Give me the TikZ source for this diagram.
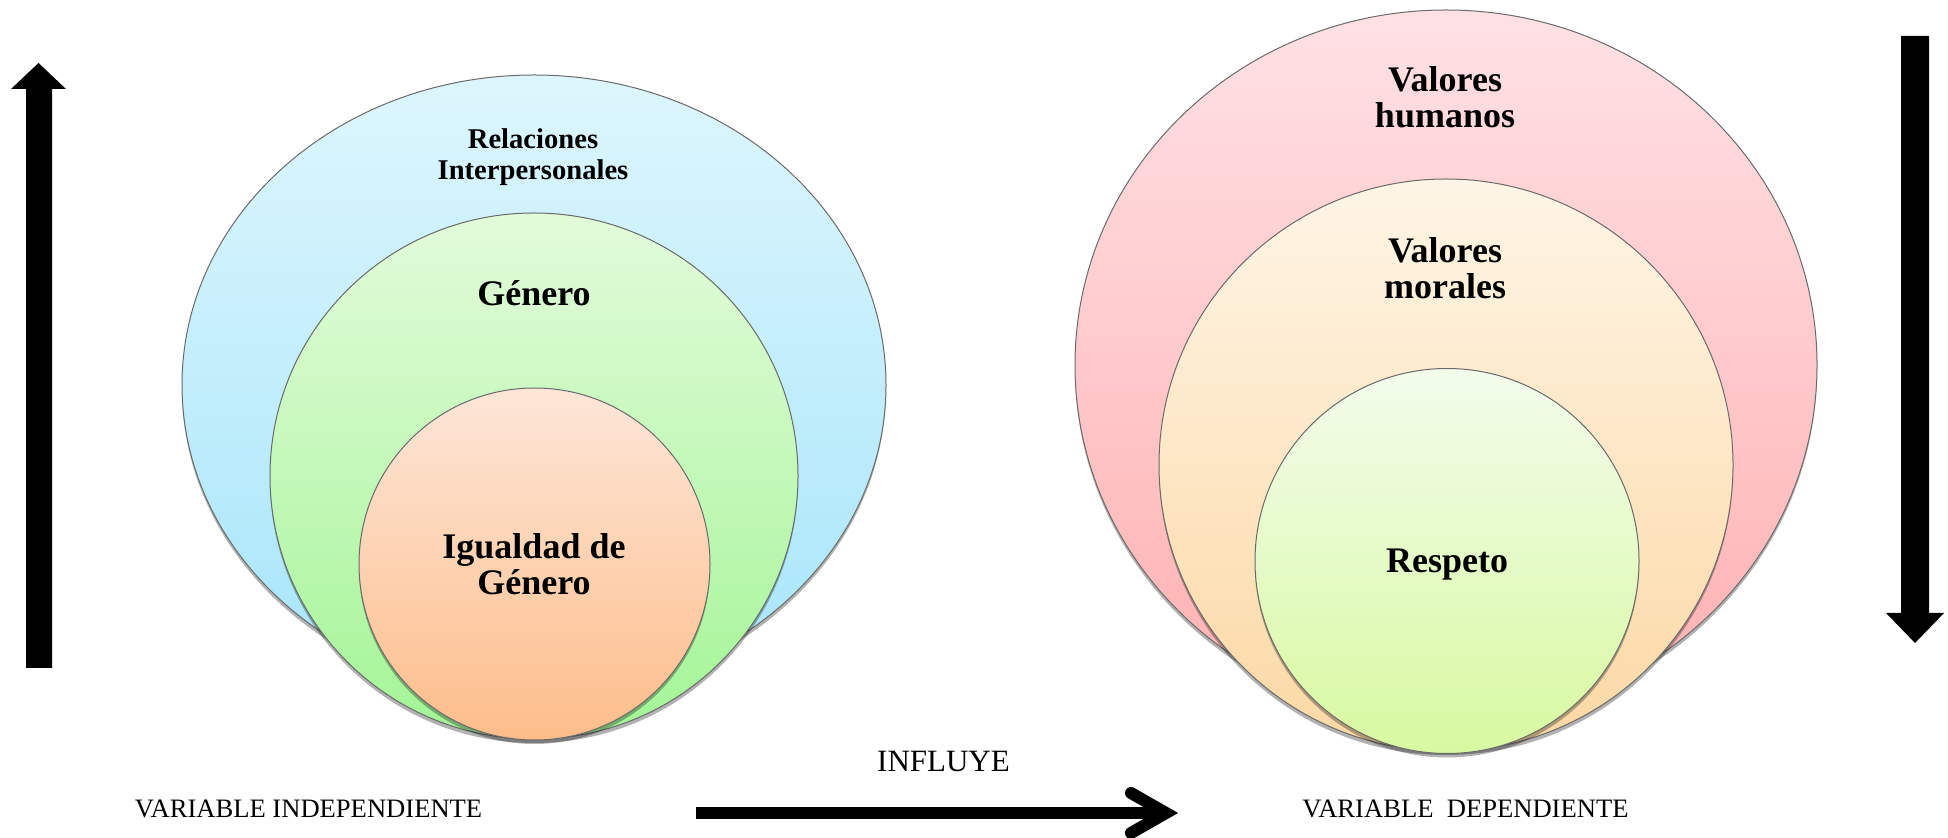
\documentclass[tikz,border=0pt]{standalone}
\usepackage{fontspec}
\setmainfont{Liberation Serif}
\usetikzlibrary{shapes.geometric,shadows}
\definecolor{edgegray}{HTML}{6A6A6A}
\definecolor{blueT}{HTML}{DDF6FD}
\definecolor{blueB}{HTML}{A6E5FA}
\definecolor{greenT}{HTML}{E2FBDA}
\definecolor{greenB}{HTML}{A3F596}
\definecolor{orangeT}{HTML}{FDE6D8}
\definecolor{orangeB}{HTML}{FDBD8A}
\definecolor{pinkT}{HTML}{FFE1E5}
\definecolor{pinkB}{HTML}{FFB0B0}
\definecolor{peachT}{HTML}{FEF5E6}
\definecolor{peachB}{HTML}{FCD8A4}
\definecolor{lgreenT}{HTML}{F2FCEC}
\definecolor{lgreenB}{HTML}{D8F9A0}
\tikzset{
  ell/.style={ellipse, draw=edgegray, line width=0.5pt, inner sep=0pt,
    drop shadow={shadow xshift=0pt, shadow yshift=-2pt, opacity=0.3, fill=black}},
  lbl/.style={align=center, inner sep=0pt, font=\bfseries\fontsize{18}{18}\selectfont},
  caplbl/.style={inner sep=0pt, font=\fontsize{13.3}{14}\selectfont},
  bigarrow/.style={fill=black},
}
\begin{document}
\begin{tikzpicture}[x=0.5pt,y=-0.5pt]
\useasboundingbox (0,0) rectangle (1948,838);

% left side nested ellipses
\node[ell, minimum width=352pt, minimum height=310pt, top color=blueT, bottom color=blueB] (blue) at (534,385) {};
\node[ell, minimum width=264pt, minimum height=263pt, top color=greenT, bottom color=greenB] (green) at (534,476) {};
\node[ell, minimum width=175.5pt, minimum height=176pt, top color=orangeT, bottom color=orangeB] (orange) at (534.5,564) {};

% right side nested ellipses
\node[ell, minimum width=371pt, minimum height=355pt, top color=pinkT, bottom color=pinkB] (pink) at (1446,365) {};
\node[ell, minimum width=287pt, minimum height=286pt, top color=peachT, bottom color=peachB] (peach) at (1446,465) {};
\node[ell, minimum width=192pt, minimum height=192.5pt, top color=lgreenT, bottom color=lgreenB] (lgreen) at (1447,561) {};

% labels
\node[lbl, font=\bfseries\fontsize{14.3}{15.5}\selectfont] (rel) at (533,157) {Relaciones\\Interpersonales};
\node[lbl, anchor=base] (gen) at (534,306) {Género};
\node[lbl] (igual) at (534,564) {Igualdad de\\Género};
\node[lbl] (valh) at (1445,97) {Valores\\humanos};
\node[lbl] (valm) at (1445,268) {Valores\\morales};
\node[lbl, anchor=base] (resp) at (1447,573) {Respeto};

\node[caplbl] (vind) at (308.5,809) {VARIABLE INDEPENDIENTE};
\node[caplbl] (vdep) at (1465.5,809) {VARIABLE\ \ DEPENDIENTE};
\node[inner sep=0pt, font=\fontsize{15.5}{16}\selectfont] (infl) at (943.5,762) {INFLUYE};

% left vertical arrow (up)
\fill[bigarrow] (26,668) -- (26,89) -- (11,89) -- (38.5,63) -- (66,89) -- (52,89) -- (52,668) -- cycle;
% right vertical arrow (down)
\fill[bigarrow] (1901,36) -- (1929,36) -- (1929,613) -- (1944,613) -- (1915,643) -- (1886,613) -- (1901,613) -- cycle;

% horizontal arrow
\coordinate (hstart) at (696,813);
\coordinate (htip) at (1166,813);
\coordinate (hup) at (1131,793);
\coordinate (hdown) at (1131,833);
\draw[line width=6pt] (hstart) -- ([xshift=-3pt]htip);
\draw[line width=6pt, line cap=round, line join=miter] (hup) -- (htip) -- (hdown);
\end{tikzpicture}
\end{document}
